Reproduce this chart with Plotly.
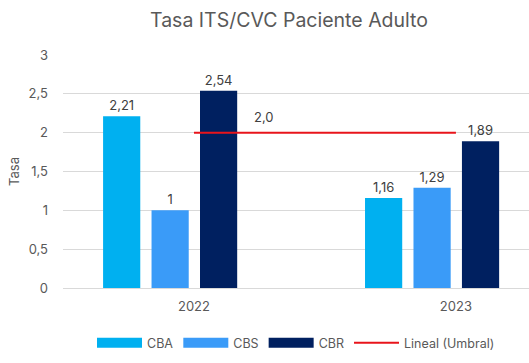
import plotly.graph_objects as go

years = ["2022", "2023"]
series_names = ["CBA", "CBS", "CBR"]
cba = [2.21, 1.16]
cbs = [1.0, 1.29]
cbr = [2.54, 1.89]
umbral = [2.0, 2.0]
umbral_name = "Lineal (Umbral)"

colors = ["#00B0F0", "#3A9BF8", "#002060"]
xpos = list(range(len(years)))

fig = go.Figure()
slot = 0.185
bw = 0.142
start = -0.347
for i, (name, vals, col) in enumerate(zip(series_names, [cba, cbs, cbr], colors)):
    fig.add_trace(go.Bar(
        x=xpos, y=vals, name=name, marker=dict(color=col, line=dict(width=0)),
        offset=start + i * slot, width=bw, showlegend=False,
        texttemplate="%{y}", textposition="outside", cliponaxis=False,
        textfont=dict(size=13, color="#404040"),
    ))

fig.add_trace(go.Scatter(
    x=xpos, y=umbral, name=umbral_name, mode="lines", showlegend=False,
    line=dict(color="#E8141B", width=2),
))

# legend entries (wide swatches like the original)
for name, col in zip(series_names, colors):
    fig.add_trace(go.Scatter(x=[None], y=[None], name=name, mode="lines",
                             line=dict(color=col, width=10)))
fig.add_trace(go.Scatter(x=[None], y=[None], name=umbral_name, mode="lines",
                         line=dict(color="#E8141B", width=2)))

fig.add_annotation(
    x=0.267, y=umbral[0], text=f"{umbral[0]:.1f}".replace(".", ","),
    showarrow=False, yshift=16, font=dict(size=13, color="#404040"),
)

fig.update_layout(
    width=529, height=363,
    margin=dict(l=63, r=0, t=55, b=75, autoexpand=False),
    paper_bgcolor="white", plot_bgcolor="white",
    separators=",.",
    font=dict(family="Inter, Roboto, sans-serif", color="#595959", size=12),
    title=dict(text="Tasa ITS/CVC Paciente Adulto", x=289/529, xanchor="center",
               y=1 - 20/363, yanchor="middle",
               font=dict(size=19.5, color="#595959")),
    showlegend=True,
    legend=dict(orientation="h", x=0.5, xanchor="center", y=-55/233, yanchor="middle",
                font=dict(size=12.5, color="#595959"), traceorder="normal",
                tracegroupgap=0, itemwidth=45),
    bargap=0.26,
)
fig.update_xaxes(
    tickvals=xpos, ticktext=years, range=[-0.5, 1.279], automargin=False,
    showgrid=False, showline=True, linecolor="#D9D9D9", linewidth=1,
    ticks="", tickfont=dict(size=13, color="#595959"), zeroline=False,
    ticklabelstandoff=6,
)
fig.update_yaxes(
    range=[0, 3], dtick=0.5, showgrid=True, gridcolor="#D9D9D9", automargin=False,
    gridwidth=1, zeroline=False, ticks="", ticklabelstandoff=14,
    tickfont=dict(size=13, color="#595959"),
    title=dict(text="Tasa", font=dict(size=13, color="#595959"), standoff=6),
)

fig.write_html("out.html", config={"displayModeBar": False},
               post_script="document.body.style.margin='0';")
